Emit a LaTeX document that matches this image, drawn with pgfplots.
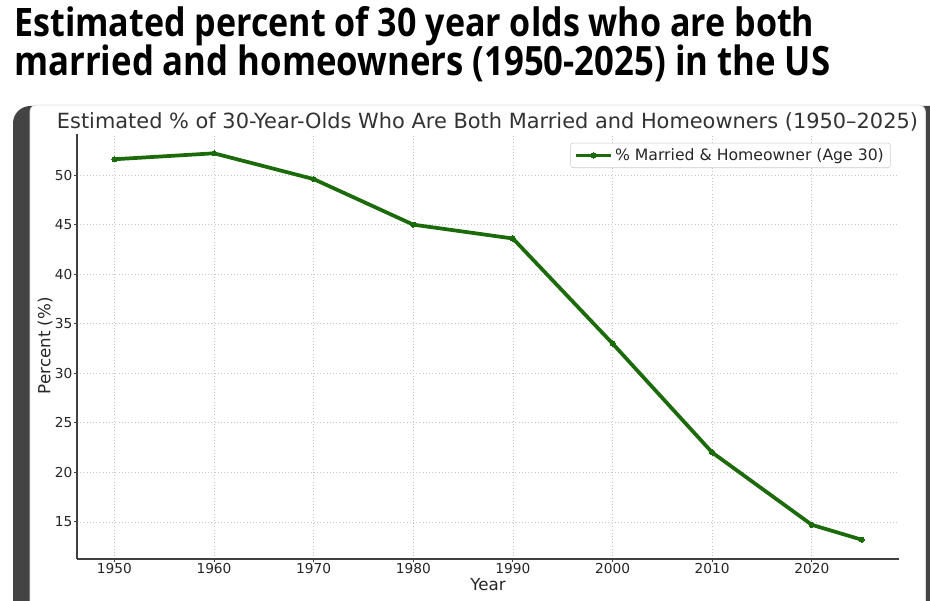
\documentclass[border=0pt]{standalone}
\usepackage{fontspec}
\setmainfont{DejaVu Sans}
\newfontfamily\titlefont{Open Sans}
\usepackage{graphicx}
\usepackage{pgfplots}
\pgfplotsset{compat=1.18}
\definecolor{lg}{HTML}{1B6B0A}
\definecolor{frame}{HTML}{444444}
\definecolor{txt}{HTML}{262626}
\begin{document}
\begin{tikzpicture}
\useasboundingbox (0,0) rectangle (697.5pt,450pt);
\clip (0,0) rectangle (697.5pt,450pt);
\fill[white] (0,0) rectangle (697.5pt,450pt);
% big title
\node[anchor=base west, inner sep=0] at (10.5pt,422.25pt) {\resizebox{600pt}{22.5pt}{\titlefont\bfseries Estimated percent of 30 year olds who are both}};
\node[anchor=base west, inner sep=0] at (10.5pt,393pt) {\resizebox{612pt}{23pt}{\titlefont\bfseries married and homeowners (1950-2025) in the US}};
% frame
\fill[frame, rounded corners=13pt] (9.75pt,370.5pt) rectangle (712pt,-20pt);
\filldraw[fill=white, draw=black!12, line width=0.6pt, rounded corners=5pt] (22.5pt,-20pt) |- (694pt,371.25pt) -- (694pt,-20pt);
\begin{axis}[
  at={(57.75pt,30.75pt)}, anchor=south west,
  scale only axis, width=616.5pt, height=318.75pt,
  xmin=1946.25, xmax=2028.75, ymin=11.25, ymax=54.15,
  axis x line=bottom, axis y line=left,
  axis line style={-, draw=black!75, line width=0.8pt},
  tick align=outside, major tick length=2.6pt,
  tick style={draw=black!75, line width=0.7pt},
  xtick={1950,1960,...,2020}, ytick={15,20,...,50},
  /pgf/number format/assume math mode=true,
  xticklabel style={/pgf/number format/1000 sep={}},
  ticklabel style={font=\fontsize{10.3}{12}\selectfont, text=txt, inner sep=0.6pt},
  grid=major, grid style={dotted, black!22, line width=0.5pt},
  xlabel={Year}, ylabel={Percent (\%)},
  label style={font=\fontsize{12.5}{14}\selectfont, text=txt},
  xlabel style={at={(axis description cs:0.5,0)}, anchor=base, yshift=-23.5pt},
  ylabel style={at={(axis description cs:-0.0389,0.502)}, anchor=center},
  legend style={at={(0.99,0.979)}, anchor=north east, draw=black!20, rounded corners=2pt,
    fill=white, font=\fontsize{11.75}{13}\selectfont, text=txt, inner xsep=3pt, inner ysep=2pt},
  legend cell align=left,
  legend image code/.code={\draw[#1, mark repeat=2, mark phase=2] plot coordinates {(0cm,0cm) (0.45cm,0cm) (0.9cm,0cm)};},
]
\addplot[color=lg, line width=2.8pt, mark=*, mark size=1.9pt, mark options={solid, line width=0pt, draw=none, fill=lg}]
  coordinates {(1950,51.6) (1960,52.2) (1970,49.6) (1980,45.0) (1990,43.6) (2000,33.0) (2010,22.0) (2020,14.7) (2025,13.2)};
\addlegendentry{\% Married \& Homeowner (Age 30)}
\end{axis}
\node[anchor=base, inner sep=0, text=black!80] at (365.6pt,353.25pt) {\resizebox{645.75pt}{!}{\fontsize{14}{16}\selectfont Estimated \% of 30-Year-Olds Who Are Both Married and Homeowners (1950--2025)}};
\end{tikzpicture}
\end{document}
